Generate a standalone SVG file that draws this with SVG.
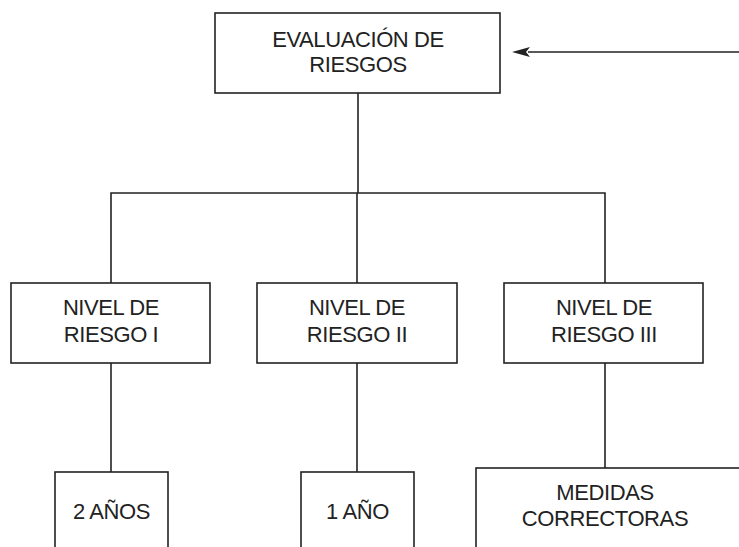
<svg xmlns="http://www.w3.org/2000/svg" width="739" height="547" viewBox="0 0 739 547">
<defs>
<style>
.box{fill:#fff;stroke:#222;stroke-width:1.6}
.ln{fill:none;stroke:#222;stroke-width:1.6}
text{font-family:"Liberation Sans",Arial,sans-serif;font-size:22px;fill:#222;text-anchor:middle;letter-spacing:-0.4px}
</style>
</defs>
<rect width="739" height="547" fill="#fff"/>
<g id="connectors">
<line class="ln" x1="358" y1="93" x2="358" y2="193"/>
<polyline class="ln" points="111,283 111,193 605,193 605,283"/>
<line class="ln" x1="357" y1="193" x2="357" y2="283"/>
<line class="ln" x1="111" y1="363" x2="111" y2="472"/>
<line class="ln" x1="357" y1="363" x2="357" y2="472"/>
<line class="ln" x1="605" y1="363" x2="605" y2="468"/>
<line class="ln" x1="739" y1="52" x2="528" y2="52"/>
<path d="M512,52 L530,47 L526,52 L530,57 Z" fill="#222"/>
<line class="ln" x1="733" y1="505" x2="739" y2="505"/>
</g>
<g id="evaluacion">
<rect class="box" x="215" y="13" width="285" height="80"/>
<text x="358" y="47">EVALUACIÓN DE</text>
<text x="358" y="72">RIESGOS</text>
</g>
<g id="nivel1">
<rect class="box" x="11" y="283" width="199" height="80"/>
<text x="111" y="315">NIVEL DE</text>
<text x="111" y="342">RIESGO I</text>
</g>
<g id="nivel2">
<rect class="box" x="257" y="283" width="200" height="80"/>
<text x="357" y="315">NIVEL DE</text>
<text x="357" y="342">RIESGO II</text>
</g>
<g id="nivel3">
<rect class="box" x="504" y="283" width="199" height="80"/>
<text x="604" y="315">NIVEL DE</text>
<text x="604" y="342">RIESGO III</text>
</g>
<g id="anos2">
<rect class="box" x="55" y="472" width="113" height="90"/>
<text x="111.5" y="519">2 AÑOS</text>
</g>
<g id="ano1">
<rect class="box" x="301" y="472" width="113" height="90"/>
<text x="357.5" y="519">1 AÑO</text>
</g>
<g id="medidas">
<rect class="box" x="476" y="468" width="266" height="90"/>
<text x="605" y="500">MEDIDAS</text>
<text x="605" y="526">CORRECTORAS</text>
</g>
</svg>
